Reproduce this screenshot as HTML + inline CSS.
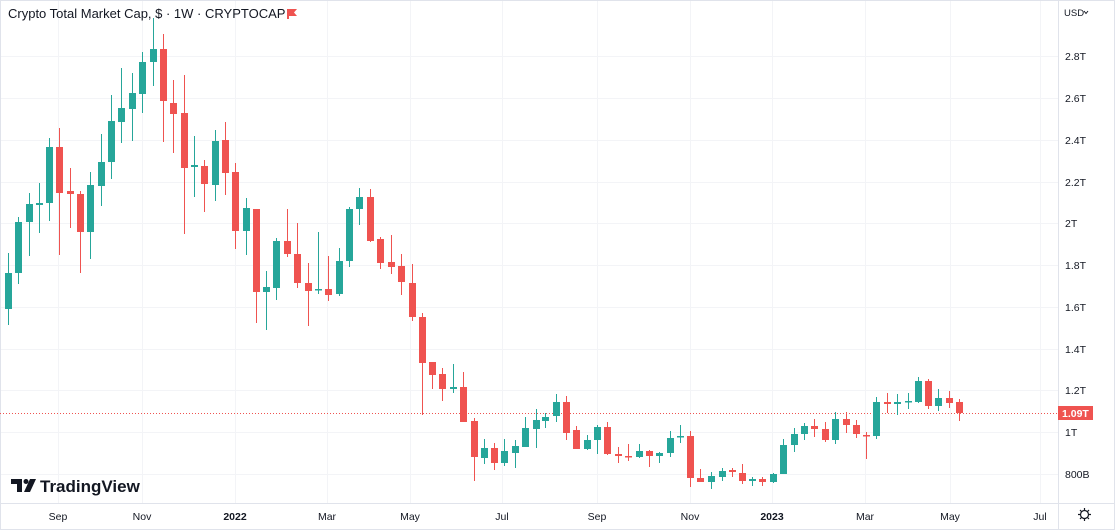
<!DOCTYPE html>
<html><head><meta charset="utf-8"><style>
html,body{margin:0;padding:0;background:#fff}
svg{display:block;font-family:"Liberation Sans",sans-serif}
</style></head><body>
<svg width="1115" height="530" viewBox="0 0 1115 530" xmlns="http://www.w3.org/2000/svg">
<rect x="0" y="0" width="1115" height="530" fill="#fff"/>
<g stroke="#f3f4f7" stroke-width="1">
<path d="M0 56.5H1058M0 98.5H1058M0 140.5H1058M0 182.5H1058M0 223.5H1058M0 265.5H1058M0 307.5H1058M0 349.5H1058M0 390.5H1058M0 432.5H1058M0 474.5H1058"/>
<path d="M58.5 0V503M142.5 0V503M235.5 0V503M327.5 0V503M410.5 0V503M502.5 0V503M597.5 0V503M690.5 0V503M772.5 0V503M865.5 0V503M950.5 0V503M1040.5 0V503"/>
</g>
<path d="M0.5 0.5H1114.5V529.5H0.5Z" fill="none" stroke="#e0e3eb"/>
<path d="M1058.5 0V530M0 503.5H1115" stroke="#e0e3eb" fill="none"/>
<path d="M0 413.5H1058" stroke="#ef5350" stroke-dasharray="1,2" fill="none"/>
<g stroke="#26a69a" stroke-width="1" fill="none">
<path d="M8.5 253V325M18.5 217V284M29.5 193V256M39.5 183V233M49.5 138V221M90.5 172V259M101.5 134V206M111.5 95V179M121.5 68V143M132.5 73V141M142.5 52V113M153.5 18V86M194.5 136V197M215.5 130V201M246.5 198V255M266.5 271V330M276.5 238V300M318.5 232V294M339.5 248V296M349.5 207V267M359.5 188V225M453.5 364V393M484.5 439V464M504.5 439V466M515.5 440V468M525.5 417V447M536.5 409V448M545.5 413V428M556.5 394V422M587.5 435V450M597.5 425V454M639.5 444V458M659.5 452V463M670.5 431V457M680.5 425V443M711.5 472V489M722.5 468V481M752.5 477V486M773.5 473V483M783.5 439V474M794.5 428V452M804.5 423V440M835.5 412V444M876.5 397V439M897.5 394V415M908.5 393V409M918.5 377V403M938.5 389V411"/>
</g>
<path fill="#26a69a" d="M5 273h7v36h-7zM15 222h7v51h-7zM26 204h7v18h-7zM36 203h7v2h-7zM46 147h7v56h-7zM87 185h7v47h-7zM98 162h7v24h-7zM108 121h7v41h-7zM118 108h7v14h-7zM129 93h7v16h-7zM139 62h7v32h-7zM150 49h7v13h-7zM191 165h7v2h-7zM212 141h7v44h-7zM243 208h7v23h-7zM263 287h7v5h-7zM273 241h7v47h-7zM315 289h7v1.5h-7zM336 261h7v33h-7zM346 209h7v52h-7zM356 197h7v12h-7zM450 387h7v2h-7zM481 448h7v10h-7zM501 451h7v12h-7zM512 446h7v7h-7zM522 428h7v19h-7zM533 420h7v9h-7zM542 417h7v4h-7zM553 402h7v14h-7zM584 440h7v9h-7zM594 427h7v13h-7zM636 451h7v6h-7zM656 453h7v3h-7zM667 438h7v15h-7zM677 436h7v1.5h-7zM708 476h7v6h-7zM719 471h7v6h-7zM749 479h7v2h-7zM770 474h7v8h-7zM780 445h7v29h-7zM791 434h7v11h-7zM801 426h7v8h-7zM832 419h7v21h-7zM873 402h7v34h-7zM894 402h7v2h-7zM905 401h7v1.5h-7zM915 381h7v21h-7zM935 398h7v8h-7z"/>
<g stroke="#ef5350" stroke-width="1" fill="none">
<path d="M59.5 128V255M70.5 168V228M80.5 191V273M163.5 34V142M173.5 80V153M184.5 75V234M204.5 160V212M225.5 122V195M235.5 163V249M256.5 209V323M287.5 209V257M297.5 223V288M308.5 263V326M328.5 256V301M370.5 189V242M380.5 237V269M391.5 235V274M401.5 254V295M412.5 264V321M422.5 313V415M432.5 362V389M442.5 368V401M463.5 372V422M474.5 418V481M494.5 443V470M566.5 396V440M576.5 426V449M607.5 422V455M618.5 447V463M628.5 444V461M649.5 450V467M690.5 431V487M700.5 469V482M732.5 468V477M742.5 464V484M762.5 477V486M814.5 419V437M825.5 422V442M846.5 412V433M856.5 420V438M866.5 432V459M887.5 393V413M928.5 379V409M949.5 391V408M959.5 399V421"/>
</g>
<path fill="#ef5350" d="M56 147h7v46h-7zM67 191h7v3h-7zM77 194h7v38h-7zM160 49h7v52h-7zM170 103h7v11h-7zM181 113h7v55h-7zM201 166h7v18h-7zM222 140h7v33h-7zM232 172h7v59h-7zM253 209h7v83h-7zM284 241h7v13h-7zM294 254h7v29h-7zM305 283h7v8h-7zM325 289h7v6h-7zM367 197h7v44h-7zM377 239h7v24h-7zM388 262h7v5h-7zM398 266h7v16h-7zM409 283h7v34h-7zM419 317h7v46h-7zM429 362h7v13h-7zM439 374h7v15h-7zM460 387h7v35h-7zM471 421h7v36h-7zM491 448h7v15h-7zM563 402h7v31h-7zM573 430h7v19h-7zM604 427h7v27h-7zM615 454h7v2h-7zM625 456h7v1.5h-7zM646 451h7v5h-7zM687 436h7v42h-7zM697 478h7v4h-7zM729 470h7v2h-7zM739 473h7v8h-7zM759 479h7v3h-7zM811 426h7v3h-7zM822 429h7v11h-7zM843 419h7v6h-7zM853 425h7v9h-7zM863 435h7v1.5h-7zM884 402h7v2h-7zM925 381h7v25h-7zM946 398h7v5h-7zM956 402h7v11h-7z"/>
<text x="8" y="18" font-size="13" fill="#131722">Crypto Total Market Cap, $ · 1W · CRYPTOCAP</text>
<path d="M287 9h10l-3 3.5 3 3.5h-8v3h-2z" fill="#ef5350"/>
<text x="1064" y="16" font-size="9.5" fill="#131722">USD</text>
<path d="M1084 11l2 2.5 2-2.5" stroke="#131722" fill="none"/>
<g font-size="10.5" fill="#131722">
<text x="1065" y="60">2.8T</text><text x="1065" y="102">2.6T</text><text x="1065" y="144">2.4T</text><text x="1065" y="186">2.2T</text><text x="1065" y="227">2T</text><text x="1065" y="269">1.8T</text><text x="1065" y="311">1.6T</text><text x="1065" y="353">1.4T</text><text x="1065" y="394">1.2T</text><text x="1065" y="436">1T</text><text x="1065" y="478">800B</text>
</g>
<rect x="1058" y="406" width="35" height="14" fill="#ef5350"/>
<text x="1062" y="417" font-size="10.5" font-weight="bold" fill="#fff">1.09T</text>
<g font-size="10.5" fill="#131722" text-anchor="middle">
<text x="58" y="520">Sep</text><text x="142" y="520">Nov</text><text x="235" y="520" font-weight="bold">2022</text><text x="327" y="520">Mar</text><text x="410" y="520">May</text><text x="502" y="520">Jul</text><text x="597" y="520">Sep</text><text x="690" y="520">Nov</text><text x="772" y="520" font-weight="bold">2023</text><text x="865" y="520">Mar</text><text x="950" y="520">May</text><text x="1040" y="520">Jul</text>
</g>
<circle cx="1084.5" cy="514.5" r="4" fill="none" stroke="#131722" stroke-width="1.2"/>
<path d="M1084.5 508v2M1084.5 519v2M1078 514.5h2M1089 514.5h2M1080 510l1.4 1.4M1087.6 517.6l1.4 1.4M1089 510l-1.4 1.4M1081.4 517.6l-1.4 1.4" stroke="#131722" stroke-width="1.2"/>
<path d="M11 479h11v13h-5v-8h-6z" fill="#131722"/>
<circle cx="26" cy="481.5" r="2.5" fill="#131722"/>
<path d="M30 479h6l-6 13h-6z" fill="#131722"/>
<text x="40" y="492" font-size="17" font-weight="bold" fill="#131722">TradingView</text>
</svg>
</body></html>
